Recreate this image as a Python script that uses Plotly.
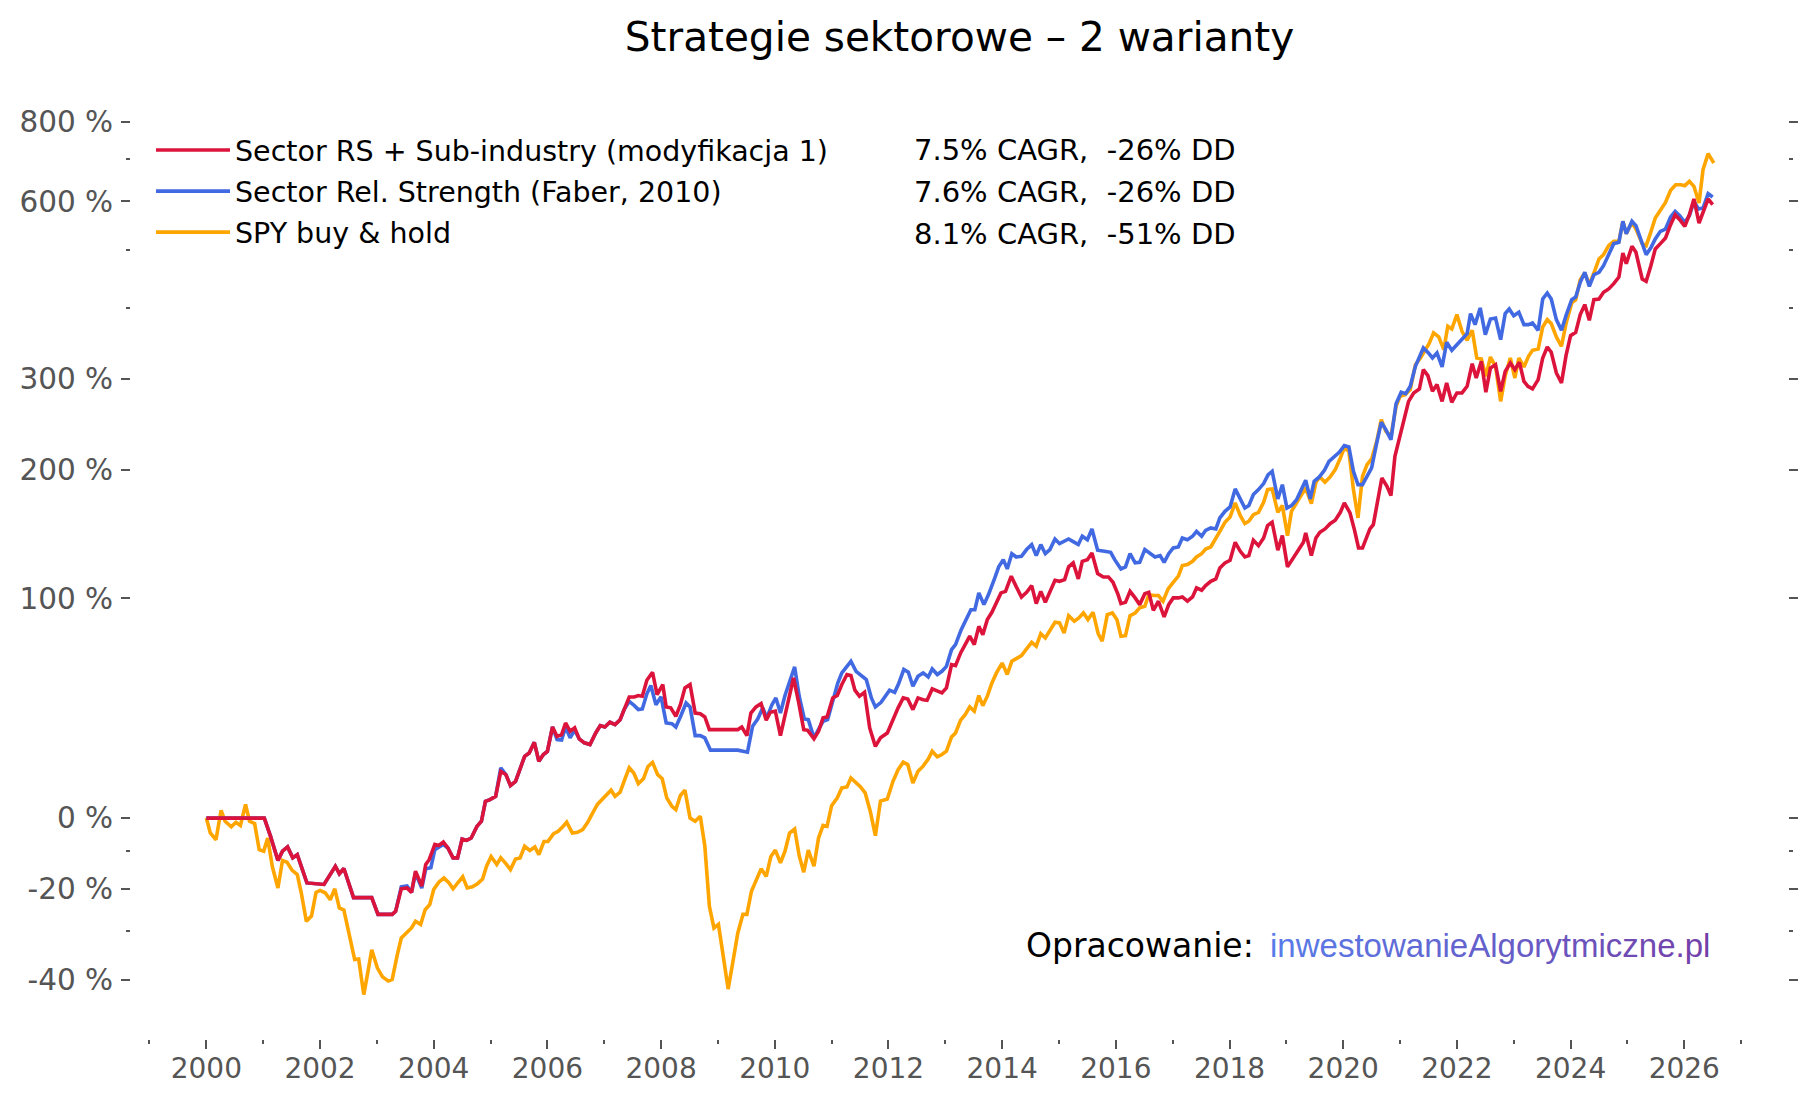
import plotly.graph_objects as go

# ---------------- data (cumulative return, %) ----------------
red_years = [2000.00, 2001.02, 2001.13, 2001.26, 2001.34, 2001.43, 2001.52, 2001.60, 2001.77, 2002.07,
             2002.27, 2002.34, 2002.42, 2002.59, 2002.91, 2003.02, 2003.27, 2003.33, 2003.43, 2003.53,
             2003.61, 2003.68, 2003.79, 2003.86, 2003.92, 2004.02, 2004.09, 2004.17, 2004.25, 2004.34,
             2004.42, 2004.50, 2004.58, 2004.66, 2004.76, 2004.84, 2004.91, 2004.99, 2005.09, 2005.18,
             2005.27, 2005.35, 2005.44, 2005.53, 2005.60, 2005.68, 2005.77, 2005.85, 2005.93, 2006.00,
             2006.09, 2006.17, 2006.25, 2006.32, 2006.40, 2006.48, 2006.56, 2006.65, 2006.75, 2006.85,
             2006.93, 2007.01, 2007.10, 2007.19, 2007.28, 2007.35, 2007.44, 2007.53, 2007.60, 2007.67,
             2007.75, 2007.85, 2007.93, 2008.03, 2008.09, 2008.17, 2008.26, 2008.34, 2008.42, 2008.51,
             2008.60, 2008.69, 2008.77, 2008.85, 2009.35, 2009.42, 2009.51, 2009.58, 2009.67, 2009.76,
             2009.85, 2009.92, 2010.01, 2010.10, 2010.17, 2010.26, 2010.33, 2010.42, 2010.51, 2010.58,
             2010.69, 2010.77, 2010.85, 2010.92, 2011.02, 2011.10, 2011.18, 2011.27, 2011.34, 2011.41,
             2011.49, 2011.58, 2011.67, 2011.77, 2011.86, 2011.98, 2012.08, 2012.17, 2012.26, 2012.34,
             2012.43, 2012.52, 2012.61, 2012.68, 2012.77, 2012.86, 2012.94, 2013.02, 2013.11, 2013.18,
             2013.27, 2013.35, 2013.43, 2013.51, 2013.59, 2013.66, 2013.74, 2013.82, 2013.90, 2013.98,
             2014.06, 2014.16, 2014.25, 2014.34, 2014.43, 2014.52, 2014.60, 2014.68, 2014.76, 2014.84,
             2014.93, 2015.01, 2015.10, 2015.17, 2015.25, 2015.34, 2015.41, 2015.50, 2015.58, 2015.68,
             2015.78, 2015.87, 2015.95, 2016.04, 2016.09, 2016.17, 2016.25, 2016.34, 2016.42, 2016.51,
             2016.58, 2016.66, 2016.75, 2016.85, 2016.93, 2017.01, 2017.10, 2017.17, 2017.26, 2017.35,
             2017.42, 2017.51, 2017.58, 2017.67, 2017.76, 2017.83, 2017.92, 2018.01, 2018.10, 2018.19,
             2018.27, 2018.34, 2018.42, 2018.51, 2018.60, 2018.67, 2018.75, 2018.85, 2018.93, 2019.02,
             2019.12, 2019.21, 2019.30, 2019.34, 2019.44, 2019.52, 2019.59, 2019.68, 2019.77, 2019.86,
             2019.95, 2020.02, 2020.12, 2020.20, 2020.27, 2020.34, 2020.40, 2020.47, 2020.53, 2020.61,
             2020.68, 2020.77, 2020.84, 2020.91, 2021.00, 2021.08, 2021.15, 2021.24, 2021.34, 2021.41,
             2021.49, 2021.57, 2021.65, 2021.74, 2021.82, 2021.91, 2022.00, 2022.09, 2022.18, 2022.27,
             2022.34, 2022.43, 2022.51, 2022.59, 2022.68, 2022.77, 2022.85, 2022.94, 2023.02, 2023.10,
             2023.18, 2023.25, 2023.33, 2023.43, 2023.51, 2023.59, 2023.66, 2023.75, 2023.84, 2023.92,
             2024.00, 2024.09, 2024.17, 2024.25, 2024.33, 2024.41, 2024.50, 2024.58, 2024.67, 2024.76,
             2024.85, 2024.92, 2024.98, 2025.08, 2025.15, 2025.26, 2025.33, 2025.41, 2025.49, 2025.58,
             2025.67, 2025.76, 2025.84, 2025.92, 2026.01, 2026.09, 2026.17, 2026.26, 2026.33, 2026.42,
             2026.50]
red_pct = [0, 0, -5.6, -12.5, -9.9, -8.7, -11.8, -10.9, -18.5, -18.9,
           -14.1, -16.1, -14.7, -22.2, -22.2, -26.2, -26.2, -25.5, -20.0, -19.8,
           -20.9, -15.4, -19.3, -13.6, -12.3, -8.0, -8.3, -7.3, -9.0, -11.8,
           -11.8, -6.4, -6.8, -6.1, -2.6, -1.0, 5.4, 6.0, 7.1, 15.9,
           14.7, 10.8, 12.3, 17.2, 21.5, 22.8, 27.0, 19.6, 22.2, 23.4,
           33.3, 29.4, 30.1, 35.0, 31.5, 32.9, 28.4, 26.8, 26.1, 30.8,
           33.9, 33.3, 35.3, 34.3, 36.4, 40.8, 46.5, 46.5, 47.2, 46.9,
           54.5, 58.4, 47.6, 52.4, 42.0, 41.6, 37.9, 43.0, 50.8, 52.4,
           39.3, 39.0, 37.6, 32.2, 32.2, 33.3, 29.7, 39.3, 42.0, 43.5,
           36.2, 39.6, 40.1, 29.7, 37.6, 47.6, 55.6, 44.1, 32.2, 31.9,
           28.4, 31.5, 37.2, 37.6, 46.1, 47.2, 52.4, 57.3, 56.8, 49.7,
           46.9, 48.7, 32.9, 25.4, 28.8, 30.8, 36.7, 41.6, 46.1, 45.6,
           40.8, 46.1, 45.3, 45.0, 50.3, 49.2, 48.4, 50.8, 62.3, 61.8,
           68.4, 72.9, 77.5, 72.9, 83.1, 78.4, 87.1, 91.4, 97.2, 103.5,
           104.5, 114.5, 107.4, 100.9, 103.9, 108.2, 96.7, 104.5, 97.6, 103.9,
           111.8, 111.1, 112.2, 120.9, 123.7, 112.7, 124.8, 126.0, 130.8, 116.3,
           114.0, 114.0, 110.4, 102.4, 96.7, 97.5, 104.5, 100.3, 96.1, 103.0,
           103.9, 92.6, 98.2, 88.6, 96.1, 100.3, 100.3, 100.9, 98.2, 100.9,
           106.7, 105.2, 108.2, 111.1, 112.7, 120.2, 123.7, 125.5, 138.7, 132.0,
           127.9, 128.9, 140.2, 136.2, 142.0, 151.6, 154.3, 132.8, 143.8, 120.9,
           127.2, 132.8, 138.7, 145.9, 128.9, 142.0, 146.4, 149.0, 153.2, 155.9,
           162.4, 170.3, 161.9, 147.9, 134.5, 134.5, 141.2, 149.0, 152.4, 171.7,
           192.4, 184.8, 176.6, 213.1, 233.5, 251.5, 272.4, 282.4, 287.2, 311.6,
           303.8, 284.4, 292.6, 272.4, 294.6, 271.3, 282.4, 282.4, 290.5, 319.4,
           300.9, 322.5, 283.2, 313.7, 318.1, 284.4, 309.4, 320.3, 311.6, 321.2,
           296.7, 290.5, 287.3, 298.8, 327.0, 342.1, 334.8, 307.3, 294.7, 330.2,
           358.2, 363.0, 389.6, 405.3, 380.9, 413.3, 414.4, 425.3, 430.9, 439.8,
           451.3, 494.7, 475.0, 507.3, 495.9, 447.8, 443.8, 470.2, 502.2, 512.5,
           523.5, 550.3, 571.1, 560.6, 546.8, 571.1, 605.2, 553.7, 574.6, 605.2,
           592.6]

blue_years = [2000.00, 2001.02, 2001.13, 2001.26, 2001.34, 2001.43, 2001.52, 2001.60, 2001.77, 2002.07,
              2002.27, 2002.34, 2002.42, 2002.59, 2002.91, 2003.02, 2003.27, 2003.33, 2003.43, 2003.53,
              2003.61, 2003.68, 2003.79, 2003.86, 2003.95, 2004.02, 2004.09, 2004.17, 2004.25, 2004.34,
              2004.42, 2004.50, 2004.58, 2004.66, 2004.76, 2004.84, 2004.91, 2004.99, 2005.09, 2005.18,
              2005.27, 2005.35, 2005.44, 2005.53, 2005.60, 2005.68, 2005.77, 2005.85, 2005.93, 2006.00,
              2006.09, 2006.17, 2006.25, 2006.32, 2006.40, 2006.48, 2006.56, 2006.65, 2006.75, 2006.85,
              2006.93, 2007.01, 2007.10, 2007.19, 2007.28, 2007.35, 2007.44, 2007.53, 2007.60, 2007.67,
              2007.75, 2007.82, 2007.91, 2008.00, 2008.09, 2008.19, 2008.26, 2008.35, 2008.44, 2008.51,
              2008.60, 2008.69, 2008.77, 2008.87, 2009.35, 2009.52, 2009.61, 2009.70, 2009.79, 2009.86,
              2009.95, 2010.02, 2010.10, 2010.18, 2010.27, 2010.35, 2010.43, 2010.52, 2010.59, 2010.69,
              2010.76, 2010.85, 2010.93, 2011.02, 2011.11, 2011.18, 2011.34, 2011.43, 2011.52, 2011.61,
              2011.70, 2011.77, 2011.87, 2011.94, 2012.02, 2012.11, 2012.18, 2012.27, 2012.35, 2012.43,
              2012.52, 2012.61, 2012.70, 2012.77, 2012.86, 2012.94, 2013.02, 2013.11, 2013.18, 2013.28,
              2013.37, 2013.45, 2013.52, 2013.59, 2013.68, 2013.76, 2013.86, 2013.94, 2014.02, 2014.09,
              2014.17, 2014.25, 2014.34, 2014.43, 2014.52, 2014.60, 2014.68, 2014.76, 2014.84, 2014.93,
              2015.01, 2015.09, 2015.17, 2015.25, 2015.34, 2015.41, 2015.50, 2015.58, 2015.68, 2015.80,
              2015.91, 2015.98, 2016.09, 2016.17, 2016.25, 2016.34, 2016.42, 2016.51, 2016.60, 2016.69,
              2016.78, 2016.85, 2016.93, 2017.01, 2017.10, 2017.17, 2017.26, 2017.35, 2017.42, 2017.51,
              2017.58, 2017.67, 2017.76, 2017.83, 2017.92, 2018.01, 2018.10, 2018.19, 2018.27, 2018.34,
              2018.42, 2018.51, 2018.60, 2018.68, 2018.75, 2018.85, 2018.93, 2019.01, 2019.09, 2019.18,
              2019.26, 2019.34, 2019.42, 2019.49, 2019.58, 2019.67, 2019.75, 2019.85, 2019.93, 2020.02,
              2020.10, 2020.18, 2020.26, 2020.34, 2020.42, 2020.50, 2020.59, 2020.67, 2020.75, 2020.84,
              2020.93, 2021.02, 2021.10, 2021.18, 2021.27, 2021.34, 2021.41, 2021.50, 2021.57, 2021.65,
              2021.74, 2021.82, 2021.91, 2022.00, 2022.09, 2022.18, 2022.24, 2022.32, 2022.41, 2022.50,
              2022.59, 2022.68, 2022.77, 2022.85, 2022.92, 2023.00, 2023.09, 2023.18, 2023.26, 2023.33,
              2023.43, 2023.51, 2023.59, 2023.66, 2023.75, 2023.84, 2023.92, 2024.02, 2024.09, 2024.17,
              2024.25, 2024.33, 2024.41, 2024.50, 2024.58, 2024.67, 2024.76, 2024.85, 2024.92, 2024.98,
              2025.08, 2025.15, 2025.26, 2025.33, 2025.41, 2025.49, 2025.58, 2025.67, 2025.76, 2025.84,
              2025.92, 2026.01, 2026.09, 2026.17, 2026.25, 2026.33, 2026.42, 2026.50]
blue_pct = [0, 0, -5.6, -12.5, -9.9, -8.7, -11.8, -10.9, -18.5, -18.9,
            -14.1, -16.1, -14.7, -22.2, -22.2, -26.2, -26.2, -25.5, -19.5, -19.3,
            -20.9, -15.9, -19.8, -14.8, -14.5, -9.5, -8.8, -8.0, -9.0, -11.8,
            -11.8, -6.4, -6.8, -6.1, -2.6, -1.0, 5.4, 6.0, 7.1, 17.2,
            14.7, 10.8, 12.3, 17.2, 21.5, 22.8, 27.0, 19.6, 22.2, 23.4,
            33.3, 28.1, 27.9, 33.3, 28.8, 32.0, 28.4, 26.8, 26.1, 30.8,
            33.9, 33.3, 35.3, 34.3, 36.4, 40.8, 44.5, 42.6, 40.8, 41.1,
            48.0, 51.9, 43.0, 46.6, 35.0, 34.7, 33.3, 38.2, 43.8, 42.0,
            29.7, 29.7, 28.8, 23.9, 23.9, 23.1, 33.6, 36.7, 41.6, 37.2,
            43.0, 46.1, 39.3, 47.2, 55.1, 61.1, 46.9, 36.7, 36.4, 28.8,
            31.9, 35.7, 36.4, 45.3, 53.2, 58.1, 64.0, 58.9, 56.8, 54.8,
            46.1, 42.0, 44.1, 46.9, 49.7, 48.7, 52.9, 59.8, 58.4, 51.6,
            56.4, 58.1, 56.1, 60.1, 57.3, 58.9, 61.4, 70.1, 72.9, 81.2,
            87.1, 93.0, 93.0, 103.5, 96.1, 102.4, 112.2, 120.9, 126.0, 119.5,
            130.3, 127.9, 128.4, 133.3, 137.0, 128.9, 137.0, 130.3, 133.3, 141.2,
            137.7, 139.5, 141.2, 139.2, 137.0, 143.3, 140.7, 149.0, 132.8, 132.0,
            131.3, 126.0, 119.5, 120.9, 130.3, 123.7, 124.1, 133.3, 130.3, 127.9,
            128.9, 124.1, 130.3, 134.5, 135.2, 142.0, 140.7, 143.3, 147.1, 143.3,
            147.9, 149.8, 149.0, 157.8, 163.2, 166.9, 182.5, 173.1, 166.0, 168.0,
            177.5, 181.9, 187.3, 195.5, 198.6, 173.7, 186.3, 166.0, 168.0, 173.1,
            181.3, 190.3, 173.7, 189.4, 193.4, 199.6, 208.2, 212.5, 217.1, 223.9,
            222.5, 198.6, 186.4, 186.4, 194.0, 201.8, 226.6, 248.6, 240.6, 230.0,
            269.7, 283.2, 281.6, 290.5, 315.9, 328.3, 340.7, 333.8, 327.0, 333.8,
            315.1, 348.6, 337.5, 345.3, 353.4, 361.1, 391.1, 374.4, 400.0, 359.6,
            382.9, 384.4, 352.5, 391.1, 398.4, 388.0, 393.2, 374.4, 374.4, 376.9,
            366.0, 414.4, 424.2, 414.4, 381.9, 366.0, 388.0, 413.3, 417.6, 442.1,
            459.5, 435.3, 455.3, 459.5, 471.4, 491.5, 512.5, 515.0, 557.2, 532.0,
            557.2, 548.2, 512.5, 491.5, 504.1, 521.5, 536.7, 541.4, 566.2, 578.2,
            569.0, 555.1, 569.0, 599.9, 583.2, 585.4, 617.1, 609.6]

spy_years = [2000.00, 2000.07, 2000.17, 2000.26, 2000.33, 2000.44, 2000.52, 2000.60, 2000.69, 2000.76,
             2000.85, 2000.93, 2001.01, 2001.08, 2001.16, 2001.26, 2001.34, 2001.42, 2001.51, 2001.60,
             2001.67, 2001.76, 2001.85, 2001.93, 2002.00, 2002.09, 2002.18, 2002.26, 2002.34, 2002.42,
             2002.52, 2002.61, 2002.68, 2002.77, 2002.85, 2002.91, 2003.01, 2003.10, 2003.20, 2003.27,
             2003.36, 2003.43, 2003.51, 2003.61, 2003.68, 2003.77, 2003.85, 2003.93, 2004.00, 2004.09,
             2004.18, 2004.27, 2004.34, 2004.42, 2004.51, 2004.59, 2004.68, 2004.77, 2004.86, 2004.93,
             2005.01, 2005.11, 2005.18, 2005.27, 2005.35, 2005.44, 2005.52, 2005.60, 2005.69, 2005.78,
             2005.85, 2005.94, 2006.01, 2006.11, 2006.19, 2006.27, 2006.34, 2006.44, 2006.53, 2006.62,
             2006.71, 2006.79, 2006.88, 2006.97, 2007.06, 2007.12, 2007.19, 2007.28, 2007.36, 2007.44,
             2007.52, 2007.60, 2007.69, 2007.77, 2007.85, 2007.94, 2008.02, 2008.10, 2008.19, 2008.26,
             2008.34, 2008.42, 2008.51, 2008.60, 2008.69, 2008.77, 2008.85, 2008.93, 2009.01, 2009.08,
             2009.18, 2009.26, 2009.35, 2009.44, 2009.51, 2009.59, 2009.67, 2009.76, 2009.85, 2009.93,
             2010.01, 2010.10, 2010.18, 2010.26, 2010.35, 2010.43, 2010.51, 2010.59, 2010.69, 2010.77,
             2010.85, 2010.92, 2011.00, 2011.10, 2011.18, 2011.27, 2011.34, 2011.43, 2011.51, 2011.59,
             2011.68, 2011.77, 2011.86, 2011.98, 2012.08, 2012.17, 2012.26, 2012.34, 2012.43, 2012.52,
             2012.61, 2012.70, 2012.77, 2012.86, 2012.94, 2013.02, 2013.11, 2013.18, 2013.27, 2013.35,
             2013.43, 2013.51, 2013.59, 2013.66, 2013.74, 2013.82, 2013.90, 2014.00, 2014.09, 2014.17,
             2014.25, 2014.34, 2014.43, 2014.52, 2014.60, 2014.68, 2014.76, 2014.84, 2014.93, 2015.01,
             2015.09, 2015.17, 2015.27, 2015.35, 2015.43, 2015.51, 2015.60, 2015.69, 2015.76, 2015.85,
             2015.94, 2016.02, 2016.09, 2016.17, 2016.25, 2016.34, 2016.42, 2016.51, 2016.58, 2016.66,
             2016.75, 2016.83, 2016.92, 2017.01, 2017.10, 2017.17, 2017.26, 2017.35, 2017.42, 2017.51,
             2017.58, 2017.67, 2017.76, 2017.83, 2017.92, 2018.01, 2018.10, 2018.19, 2018.27, 2018.34,
             2018.42, 2018.51, 2018.60, 2018.67, 2018.75, 2018.85, 2018.93, 2019.02, 2019.09, 2019.18,
             2019.26, 2019.34, 2019.44, 2019.52, 2019.59, 2019.68, 2019.77, 2019.86, 2019.95, 2020.02,
             2020.10, 2020.18, 2020.26, 2020.34, 2020.42, 2020.50, 2020.59, 2020.67, 2020.75, 2020.84,
             2020.93, 2021.00, 2021.09, 2021.18, 2021.27, 2021.36, 2021.43, 2021.51, 2021.59, 2021.68,
             2021.77, 2021.84, 2021.91, 2022.00, 2022.09, 2022.18, 2022.27, 2022.35, 2022.43, 2022.51,
             2022.59, 2022.68, 2022.77, 2022.85, 2022.94, 2023.02, 2023.09, 2023.18, 2023.26, 2023.33,
             2023.43, 2023.51, 2023.59, 2023.66, 2023.75, 2023.84, 2023.92, 2024.02, 2024.09, 2024.17,
             2024.25, 2024.33, 2024.41, 2024.50, 2024.58, 2024.67, 2024.76, 2024.85, 2024.92, 2024.98,
             2025.08, 2025.15, 2025.26, 2025.33, 2025.41, 2025.49, 2025.58, 2025.67, 2025.76, 2025.85,
             2025.94, 2026.01, 2026.09, 2026.17, 2026.26, 2026.33, 2026.42, 2026.52]
spy_pct = [0, -4.6, -6.6, 2.5, -1.0, -2.7, -1.3, -2.3, 4.4, -1.0,
           -1.7, -9.5, -9.9, -6.1, -14.1, -19.8, -12.5, -13.0, -15.2, -16.3,
           -21.0, -27.8, -26.6, -20.9, -20.4, -21.0, -22.7, -20.0, -24.7, -25.2,
           -31.1, -36.0, -35.9, -42.7, -38.0, -34.0, -37.7, -39.4, -40.2, -39.9,
           -35.0, -31.5, -30.5, -29.3, -27.8, -28.5, -25.1, -23.9, -20.2, -18.3,
           -17.2, -18.5, -20.0, -18.5, -16.9, -19.8, -19.5, -18.7, -17.5, -14.1,
           -11.4, -13.6, -11.8, -13.4, -15.0, -12.1, -11.8, -8.5, -9.7, -8.7,
           -10.9, -7.1, -7.1, -4.8, -4.1, -2.7, -1.3, -4.6, -4.4, -3.6,
           -1.3, 1.4, 4.4, 6.2, 8.0, 9.2, 7.1, 8.5, 12.9, 17.2,
           15.3, 11.5, 13.2, 17.7, 19.2, 14.7, 13.2, 6.6, 3.8, 2.7,
           7.4, 9.2, 0.0, -1.0, 0.6, -8.5, -24.3, -29.3, -28.5, -34.3,
           -41.7, -36.7, -30.4, -26.2, -26.2, -20.6, -18.1, -14.8, -16.8, -11.5,
           -9.6, -13.2, -9.9, -4.6, -3.4, -11.2, -15.7, -9.6, -14.1, -6.1,
           -2.3, -2.6, 4.0, 6.6, 10.0, 10.3, 13.5, 12.0, 10.3, 8.3,
           2.2, -5.4, 5.5, 6.2, 12.3, 16.5, 19.3, 18.4, 11.7, 15.9,
           17.8, 20.5, 23.5, 21.3, 22.2, 23.5, 29.2, 30.8, 36.2, 38.6,
           42.0, 40.1, 47.2, 42.6, 46.9, 53.2, 58.1, 63.1, 57.3, 64.0,
           65.2, 67.0, 70.5, 74.1, 72.0, 78.9, 76.5, 80.3, 85.5, 85.1,
           79.3, 89.4, 86.1, 88.0, 91.0, 87.1, 91.4, 78.9, 74.7, 90.0,
           91.0, 87.0, 77.5, 77.8, 89.4, 91.0, 94.1, 95.1, 102.4, 101.8,
           101.8, 98.2, 106.1, 110.4, 114.5, 121.8, 122.5, 124.8, 127.9, 130.3,
           133.7, 135.2, 141.2, 147.1, 154.3, 158.6, 170.3, 159.7, 153.2, 155.1,
           160.5, 162.4, 170.8, 181.9, 182.5, 162.4, 168.0, 143.8, 163.2, 170.3,
           176.0, 183.4, 169.7, 188.5, 193.4, 188.5, 193.4, 200.2, 211.5, 221.5,
           218.1, 181.9, 157.8, 194.0, 205.0, 210.5, 228.3, 251.5, 238.8, 233.5,
           266.6, 278.4, 280.4, 286.4, 318.1, 327.0, 336.1, 346.8, 362.1, 356.3,
           338.4, 371.9, 367.9, 389.6, 364.5, 351.5, 366.0, 327.0, 325.6, 303.0,
           328.3, 315.9, 272.4, 303.8, 327.0, 300.9, 327.0, 315.1, 329.3, 337.5,
           339.3, 370.9, 381.9, 375.9, 356.3, 343.1, 375.9, 408.0, 413.3, 446.7,
           458.3, 438.2, 458.3, 483.6, 491.5, 508.6, 517.0, 517.0, 557.2, 532.0,
           555.1, 541.4, 512.5, 508.6, 534.7, 564.1, 580.4, 597.7, 624.7, 637.7,
           637.7, 635.4, 645.5, 633.9, 596.3, 673.4, 713.6, 689.9]

series_names = ["Sector RS + Sub-industry (modyfikacja 1)",
                "Sector Rel. Strength (Faber, 2010)",
                "SPY buy & hold"]
series_stats = ["7.5% CAGR,\u00a0 -26% DD",
                "7.6% CAGR,\u00a0 -26% DD",
                "8.1% CAGR,\u00a0 -51% DD"]
series_colors = ["#DC143C", "#4169E1", "#FFA500"]

y_major_pct = [-40, -20, 0, 100, 200, 300, 600, 800]
y_minor_pct = [-30, -10, 400, 500, 700]

title_text = "Strategie sektorowe \u2013 2 warianty"
credit_label = "Opracowanie:"
credit_site = "inwestowanieAlgorytmiczne.pl"


def growth(p_list):
    return [1 + p / 100.0 for p in p_list]


# ---------------- figure ----------------
fig = go.Figure()
line_w = 3.6
# draw order: SPY (bottom), Faber, modified (top); legend order via legendrank
fig.add_trace(go.Scatter(x=spy_years, y=growth(spy_pct), mode="lines", name=series_names[2],
                         legendgroup="c", legendrank=3,
                         line=dict(color=series_colors[2], width=line_w)))
fig.add_trace(go.Scatter(x=blue_years, y=growth(blue_pct), mode="lines", name=series_names[1],
                         legendgroup="b", legendrank=2,
                         line=dict(color=series_colors[1], width=line_w)))
fig.add_trace(go.Scatter(x=red_years, y=growth(red_pct), mode="lines", name=series_names[0],
                         legendgroup="a", legendrank=1,
                         line=dict(color=series_colors[0], width=line_w)))

# plot area geometry (pixels)
W, H = 1815, 1104
L, R, T, B = 131, 27, 116, 65
pw, ph = W - L - R, H - T - B


def px_x(px):
    return (px - L) / pw


def px_y(py):
    return 1 - (py - T) / ph


tick_gray = "#555555"
x_tick_font = dict(family="DejaVu Sans", size=28, color=tick_gray)
y_tick_font = dict(family="DejaVu Sans", size=29.5, color=tick_gray)
legend_size = 28.5

fig.update_layout(
    width=W, height=H,
    margin=dict(l=L, r=R, t=T, b=B, pad=0),
    paper_bgcolor="white", plot_bgcolor="white",
    font=dict(family="DejaVu Sans", size=27, color="black"),
    title=dict(text=title_text, x=0.5, xref="paper", xanchor="center",
               y=1 - 37 / H, yref="container", yanchor="middle",
               font=dict(family="DejaVu Sans", size=40.6, color="black")),
    showlegend=True,
    legend=dict(x=px_x(151), y=px_y(125), xanchor="left", yanchor="top",
                traceorder="grouped", tracegroupgap=1, itemwidth=74,
                bgcolor="rgba(0,0,0,0)", borderwidth=0,
                font=dict(family="DejaVu Sans", size=legend_size, color="black")),
    xaxis=dict(range=[1998.675, 2027.825], showgrid=False, zeroline=False, showline=False,
               tickmode="array", tickvals=list(range(2000, 2027, 2)),
               ticktext=[str(v) for v in range(2000, 2027, 2)],
               ticks="outside", ticklen=9, tickwidth=1.6, tickcolor=tick_gray,
               tickfont=x_tick_font, ticklabelstandoff=-5,
               minor=dict(tickmode="array", tickvals=list(range(1999, 2028)),
                          ticks="outside", ticklen=4, tickwidth=1.6, tickcolor=tick_gray)),
    yaxis=dict(type="log", range=[-0.3027, 0.9620], showgrid=False, zeroline=False,
               showline=False, mirror="ticks",
               tickmode="array", tickvals=growth(y_major_pct),
               ticktext=[f"{v} %" for v in y_major_pct],
               ticks="outside", ticklen=9, tickwidth=1.6, tickcolor=tick_gray,
               tickfont=y_tick_font, ticklabelstandoff=2,
               minor=dict(tickmode="array", tickvals=growth(y_minor_pct),
                          ticks="outside", ticklen=4, tickwidth=1.6, tickcolor=tick_gray)),
)

# CAGR / drawdown text next to the legend entries
for i, txt in enumerate(series_stats):
    fig.add_annotation(text=txt, xref="paper", yref="paper", x=px_x(1238), y=px_y(150 + 42 * i),
                       xanchor="right", yanchor="middle", showarrow=False,
                       font=dict(family="DejaVu Sans", size=29, color="black"))

# credit text with a blue-to-purple colour run
c0, c1 = (88, 124, 233), (116, 64, 168)
n = len(credit_site)
spans = []
for k, ch in enumerate(credit_site):
    t = k / (n - 1)
    col = tuple(round(c0[j] + (c1[j] - c0[j]) * t) for j in range(3))
    spans.append(f"<span style='color:rgb{col}'>{ch}</span>")
fig.add_annotation(text=credit_label, xref="paper", yref="paper", x=px_x(1256), y=px_y(945),
                   xanchor="right", yanchor="middle", showarrow=False,
                   font=dict(family="DejaVu Sans", size=33, color="black"))
fig.add_annotation(text="".join(spans), xref="paper", yref="paper", x=px_x(1268), y=px_y(945),
                   xanchor="left", yanchor="middle", showarrow=False,
                   font=dict(family="Liberation Sans", size=33, color="rgb(100,100,210)"))

fig.write_html("out.html")
